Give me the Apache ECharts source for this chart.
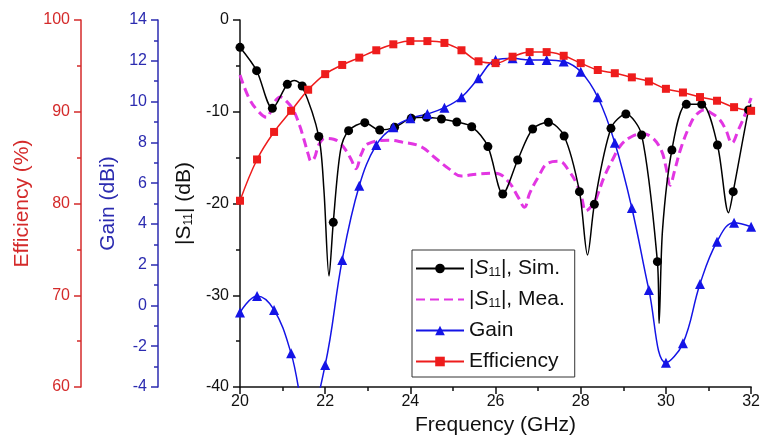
<!DOCTYPE html>
<html>
<head>
<meta charset="utf-8">
<script src="https://cdn.jsdelivr.net/npm/echarts@6/dist/echarts.min.js"></script>
<style>
html, body { margin: 0; padding: 0; background: #fff; }
#main { width: 763px; height: 445px; }
</style>
</head>
<body>
<div id="main"></div>
<script>
// frequency grid of the gain / efficiency markers (GHz)
var freqGE = [20.0, 20.4, 20.8, 21.2, 21.6, 22.0, 22.4, 22.8, 23.2, 23.6, 24.0, 24.4, 24.8, 25.2, 25.6,
	26.0, 26.4, 26.8, 27.2, 27.6, 28.0, 28.4, 28.8, 29.2, 29.6, 30.0, 30.4, 30.8, 31.2, 31.6, 32.0];
var effVals = [80.3, 84.8, 87.8, 90.1, 92.4, 94.1, 95.1, 95.9, 96.7, 97.35, 97.7, 97.7, 97.5, 96.7, 95.5,
	95.3, 96.0, 96.5, 96.5, 96.1, 95.3, 94.55, 94.2, 93.75, 93.3, 92.5, 92.1, 91.6, 91.2, 90.5, 90.1];
var gainVals = [-0.35, 0.46, -0.22, -2.35, -5.6, -2.92, 2.23, 5.87, 7.87, 8.74, 9.18, 9.39, 9.70, 10.21, 11.14,
	12.04, 12.12, 12.04, 12.04, 11.96, 11.46, 10.21, 7.98, 4.78, 0.76, -2.81, -1.86, 1.05, 3.13, 4.06, 3.86];

// |S11| simulated, marker points
var simF = [20.0, 20.39, 20.76, 21.11, 21.46, 21.85, 22.19, 22.55, 22.93, 23.28, 23.63, 24.02, 24.38, 24.73,
	25.09, 25.44, 25.82, 26.17, 26.52, 26.87, 27.24, 27.61, 27.97, 28.32, 28.71, 29.06, 29.43, 29.80,
	30.14, 30.48, 30.84, 31.21, 31.58, 31.94];
var simDb = [-2.98, -5.52, -9.63, -7.01, -7.19, -12.7, -22.05, -12.06, -11.19, -11.99, -11.7, -10.72, -10.61, -10.79,
	-11.12, -11.63, -13.8, -18.96, -15.26, -11.88, -11.15, -12.64, -18.71, -20.09, -11.81, -10.25, -12.53, -26.34,
	-14.17, -9.19, -9.19, -13.62, -18.71, -9.8];
// |S11| simulated, curve points between markers (resonance notches)
var simExtraF = [21.28, 21.97, 22.09, 22.36, 28.16, 29.84, 29.92, 31.47, 32.0];
var simExtraDb = [-6.6, -18.5, -27.9, -14.2, -25.6, -33.06, -22.9, -21.0, -9.2];

// |S11| measured
var meaF = [20.0, 20.2, 20.4, 20.62, 20.8, 20.95, 21.1, 21.25, 21.4, 21.5, 21.6, 21.67, 21.75, 21.85, 22.0,
	22.2, 22.35, 22.5, 22.62, 22.72, 22.85, 23.0, 23.5, 23.8, 24.25, 24.55, 24.9, 25.2, 25.55, 26.0,
	26.3, 26.53, 26.68, 26.8, 27.0, 27.23, 27.5, 27.73, 27.9, 28.02, 28.12, 28.3, 28.4, 28.55, 28.75,
	28.95, 29.2, 29.45, 29.7, 29.9, 30.0, 30.1, 30.2, 30.35, 30.55, 30.7, 30.9, 31.05, 31.25, 31.4,
	31.55, 31.7, 31.85, 32.0];
var meaDb = [-6.0, -8.4, -9.8, -10.6, -9.0, -8.4, -8.9, -9.8, -11.5, -13.0, -14.6, -15.4, -15.0, -13.6, -12.9,
	-13.0, -13.4, -14.3, -15.3, -16.2, -14.6, -13.5, -13.1, -13.3, -13.8, -14.9, -16.2, -17.0, -16.8, -16.7,
	-17.6, -19.3, -20.4, -18.9, -17.15, -15.6, -15.4, -16.5, -17.8, -19.3, -20.8, -20.0, -19.0, -17.1, -15.2,
	-13.6, -12.7, -12.4, -12.9, -14.3, -16.0, -18.0, -16.5, -14.0, -11.6, -10.4, -9.8, -10.1, -10.8, -11.9,
	-13.4, -12.0, -10.4, -8.5];

var xTicks = {min: 20, max: 32, interval: 2};
var s11Ticks = {min: -40, max: 0, interval: 10};
var gainTicks = {min: -4, max: 14, interval: 2};
var effTicks = {min: 60, max: 100, interval: 10};

var legendText = {
	'sim': '|{it|S}{sub|11}|, Sim.',
	'mea': '|{it|S}{sub|11}|, Mea.',
	'Gain': 'Gain',
	'Efficiency': 'Efficiency'
};

function pairs(xs, ys) {
	return xs.map(function(x, i) { return [x, ys[i]]; });
}

var simData = pairs(simF, simDb).concat(simExtraF.map(function(f, i) {
	return {value: [f, simExtraDb[i]], symbol: 'none'};
}));
simData.sort(function(a, b) {
	var xa = a.value ? a.value[0] : a[0];
	var xb = b.value ? b.value[0] : b[0];
	return xa - xb;
});

var RED = '#ee1c1c';
var RED_AX = '#d42a2a';
var BLUE = '#1414e6';
var BLUE_AX = '#2b2bb0';
var MAG = '#e236e2';

function yAxis(t, color, offset, name, gap, rich) {
	return {
		type: 'value',
		position: 'left',
		offset: offset,
		min: t.min, max: t.max, interval: t.interval,
		name: name,
		nameLocation: 'middle',
		nameGap: gap,
		nameTextStyle: {color: color, fontSize: 21, rich: rich || {}},
		axisLine: {show: true, onZero: false, lineStyle: {color: color, width: 1.5}},
		axisTick: {show: true, length: 7, lineStyle: {color: color, width: 1.5}},
		minorTick: {show: true, splitNumber: 2, length: 4, lineStyle: {color: color, width: 1.5}},
		axisLabel: {color: color, fontSize: 16, margin: 11},
		splitLine: {show: false}
	};
}

var chart = echarts.init(document.getElementById('main'));
chart.setOption({
	animation: false,
	textStyle: {fontFamily: 'Liberation Sans, Arial, sans-serif'},
	grid: {left: 240, right: 11, top: 20, bottom: 58, containLabel: false},
	legend: {
		data: ['sim', {name: 'mea', itemStyle: {opacity: 0}}, 'Gain', 'Efficiency'],
		orient: 'vertical',
		left: 412, top: 250,
		padding: [8, 10, 5, 3],
		itemWidth: 48, itemHeight: 12, itemGap: 10,
		backgroundColor: '#fff',
		borderColor: '#333', borderWidth: 1,
		formatter: function(name) { return legendText[name]; },
		textStyle: {
			fontSize: 21, color: '#111',
			rich: {
				it: {fontSize: 21, fontStyle: 'italic', color: '#111'},
				sub: {fontSize: 12, verticalAlign: 'bottom', color: '#111'}
			}
		}
	},
	xAxis: {
		type: 'value',
		min: xTicks.min, max: xTicks.max, interval: xTicks.interval,
		name: 'Frequency (GHz)',
		nameLocation: 'middle',
		nameGap: 26,
		nameTextStyle: {color: '#111', fontSize: 21},
		axisLine: {show: true, onZero: false, lineStyle: {color: '#111', width: 1.5}},
		axisTick: {show: true, length: 7, lineStyle: {color: '#111', width: 1.5}},
		minorTick: {show: true, splitNumber: 2, length: 4, lineStyle: {color: '#111', width: 1.5}},
		axisLabel: {color: '#111', fontSize: 16, margin: 7},
		splitLine: {show: false}
	},
	yAxis: [
		yAxis(s11Ticks, '#111', 0, '|S{sub|11}| (dB)', 37,
			{sub: {fontSize: 12, verticalAlign: 'bottom', color: '#111'}}),
		yAxis(gainTicks, BLUE_AX, 82, 'Gain (dBi)', 37),
		yAxis(effTicks, RED_AX, 159, 'Efficiency (%)', 44)
	],
	series: [{
		name: 'mea',
		type: 'line',
		yAxisIndex: 0,
		smooth: 0.4,
		symbol: 'none',
		lineStyle: {color: MAG, width: 3, type: [9, 5]},
		itemStyle: {color: MAG},
		data: pairs(meaF, meaDb)
	}, {
		name: 'sim',
		type: 'line',
		yAxisIndex: 0,
		smooth: 0.3,
		symbol: 'circle',
		symbolSize: 9,
		lineStyle: {color: '#000', width: 1.5},
		itemStyle: {color: '#000'},
		data: simData
	}, {
		name: 'Gain',
		type: 'line',
		yAxisIndex: 1,
		smooth: 0.4,
		symbol: 'triangle',
		symbolSize: 10,
		lineStyle: {color: BLUE, width: 1.5},
		itemStyle: {color: BLUE},
		data: pairs(freqGE, gainVals)
	}, {
		name: 'Efficiency',
		type: 'line',
		yAxisIndex: 2,
		smooth: 0.4,
		symbol: 'rect',
		symbolSize: 8,
		lineStyle: {color: RED, width: 1.5},
		itemStyle: {color: RED},
		data: pairs(freqGE, effVals)
	}]
});
</script>
</body>
</html>
